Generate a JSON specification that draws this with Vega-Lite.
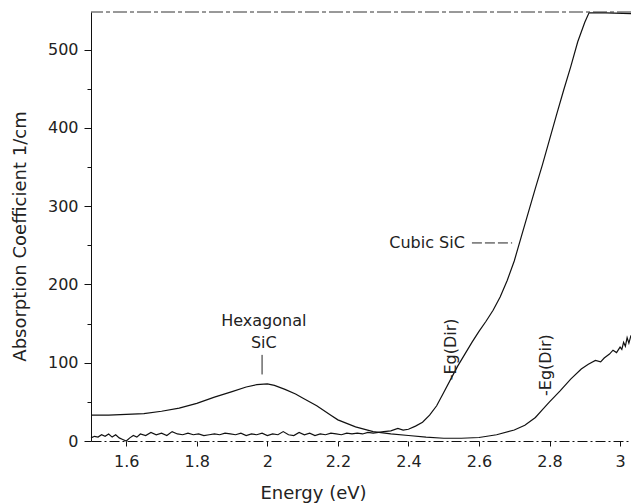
{
  "$schema": "https://vega.github.io/schema/vega-lite/v6.json",
  "width": 540,
  "height": 429,
  "autosize": "none",
  "padding": {"left": 91, "top": 12, "right": 0, "bottom": 62},
  "background": "white",
  "config": {
    "view": {"stroke": null},
    "font": "DejaVu Sans",
    "axis": {"grid": false, "domainColor": "#111", "tickColor": "#111", "labelColor": "#222", "titleColor": "#222", "labelFont": "DejaVu Sans", "titleFont": "DejaVu Sans", "labelFontWeight": "normal", "titleFontWeight": "normal"}
  },
  "datasets": {
    "cubic": [
      {"e": 1.5, "a": 4}, {"e": 1.51, "a": 6}, {"e": 1.52, "a": 5}, {"e": 1.53, "a": 8}, {"e": 1.54, "a": 6},
      {"e": 1.55, "a": 9}, {"e": 1.56, "a": 5}, {"e": 1.57, "a": 8}, {"e": 1.58, "a": 4}, {"e": 1.59, "a": 2},
      {"e": 1.6, "a": 0}, {"e": 1.61, "a": 4}, {"e": 1.62, "a": 7}, {"e": 1.63, "a": 5}, {"e": 1.64, "a": 9},
      {"e": 1.655, "a": 7}, {"e": 1.67, "a": 11}, {"e": 1.685, "a": 8}, {"e": 1.7, "a": 10}, {"e": 1.715, "a": 7},
      {"e": 1.73, "a": 12}, {"e": 1.745, "a": 9}, {"e": 1.76, "a": 8}, {"e": 1.775, "a": 10}, {"e": 1.79, "a": 8},
      {"e": 1.805, "a": 9}, {"e": 1.82, "a": 7}, {"e": 1.835, "a": 8}, {"e": 1.85, "a": 9}, {"e": 1.865, "a": 8},
      {"e": 1.88, "a": 10}, {"e": 1.895, "a": 9}, {"e": 1.91, "a": 8}, {"e": 1.925, "a": 10}, {"e": 1.94, "a": 7},
      {"e": 1.955, "a": 9}, {"e": 1.97, "a": 8}, {"e": 1.985, "a": 10}, {"e": 2.0, "a": 7}, {"e": 2.015, "a": 9},
      {"e": 2.03, "a": 8}, {"e": 2.045, "a": 12}, {"e": 2.06, "a": 8}, {"e": 2.075, "a": 7}, {"e": 2.09, "a": 11},
      {"e": 2.105, "a": 8}, {"e": 2.12, "a": 10}, {"e": 2.135, "a": 7}, {"e": 2.15, "a": 9}, {"e": 2.165, "a": 8},
      {"e": 2.18, "a": 10}, {"e": 2.195, "a": 9}, {"e": 2.21, "a": 8}, {"e": 2.225, "a": 10}, {"e": 2.24, "a": 9},
      {"e": 2.255, "a": 10}, {"e": 2.27, "a": 9}, {"e": 2.285, "a": 11}, {"e": 2.3, "a": 10}, {"e": 2.315, "a": 11},
      {"e": 2.33, "a": 12}, {"e": 2.35, "a": 13}, {"e": 2.37, "a": 16}, {"e": 2.385, "a": 14}, {"e": 2.4, "a": 15},
      {"e": 2.42, "a": 19}, {"e": 2.44, "a": 24}, {"e": 2.46, "a": 33}, {"e": 2.48, "a": 45}, {"e": 2.5, "a": 62},
      {"e": 2.52, "a": 79}, {"e": 2.54, "a": 96}, {"e": 2.56, "a": 111}, {"e": 2.58, "a": 126}, {"e": 2.6, "a": 140},
      {"e": 2.62, "a": 153}, {"e": 2.64, "a": 167}, {"e": 2.66, "a": 184}, {"e": 2.68, "a": 205}, {"e": 2.7, "a": 230},
      {"e": 2.72, "a": 261}, {"e": 2.74, "a": 292}, {"e": 2.76, "a": 323}, {"e": 2.78, "a": 353}, {"e": 2.8, "a": 385},
      {"e": 2.82, "a": 417}, {"e": 2.84, "a": 448}, {"e": 2.86, "a": 478}, {"e": 2.88, "a": 510}, {"e": 2.9, "a": 535},
      {"e": 2.912, "a": 547}, {"e": 2.96, "a": 547}, {"e": 3.031, "a": 546}
    ],
    "hex": [
      {"e": 1.5, "a": 33}, {"e": 1.55, "a": 33}, {"e": 1.6, "a": 34}, {"e": 1.65, "a": 35}, {"e": 1.7, "a": 38},
      {"e": 1.75, "a": 42}, {"e": 1.8, "a": 48}, {"e": 1.85, "a": 56}, {"e": 1.9, "a": 63}, {"e": 1.94, "a": 69},
      {"e": 1.97, "a": 72}, {"e": 2.0, "a": 73}, {"e": 2.02, "a": 71}, {"e": 2.05, "a": 66}, {"e": 2.08, "a": 60},
      {"e": 2.1, "a": 55}, {"e": 2.14, "a": 45}, {"e": 2.18, "a": 33}, {"e": 2.2, "a": 27}, {"e": 2.25, "a": 18},
      {"e": 2.3, "a": 12}, {"e": 2.35, "a": 9}, {"e": 2.4, "a": 7}, {"e": 2.45, "a": 5}, {"e": 2.5, "a": 3.5},
      {"e": 2.55, "a": 3.5}, {"e": 2.6, "a": 4.5}, {"e": 2.65, "a": 8}, {"e": 2.7, "a": 14}, {"e": 2.73, "a": 20},
      {"e": 2.76, "a": 30}, {"e": 2.78, "a": 40}, {"e": 2.8, "a": 50}, {"e": 2.83, "a": 64}, {"e": 2.86, "a": 79},
      {"e": 2.89, "a": 92}, {"e": 2.91, "a": 98}, {"e": 2.93, "a": 103}, {"e": 2.945, "a": 101}, {"e": 2.955, "a": 106},
      {"e": 2.97, "a": 111}, {"e": 2.98, "a": 116}, {"e": 2.99, "a": 113}, {"e": 3.0, "a": 120}, {"e": 3.005, "a": 117},
      {"e": 3.01, "a": 126}, {"e": 3.015, "a": 121}, {"e": 3.02, "a": 132}, {"e": 3.025, "a": 125}, {"e": 3.031, "a": 135}
    ],
    "labels": [
      {"e": 1.99, "a": 153, "t": "Hexagonal"},
      {"e": 1.99, "a": 125, "t": "SiC"},
      {"e": 2.56, "a": 253, "t": "Cubic SiC", "al": "right"}
    ],
    "vlabels": [
      {"e": 2.522, "a": 117, "t": "-Eg(Dir)"},
      {"e": 2.791, "a": 97, "t": "-Eg(Dir)"}
    ],
    "hexptr": [{"e": 1.985, "a": 110, "a2": 85}],
    "cubptr": [{"e": 2.58, "e2": 2.694, "a": 253}]
  },
  "layer": [
    {
      "data": {"name": "cubic"},
      "mark": {"type": "line", "color": "#111", "strokeWidth": 1.2},
      "encoding": {
        "x": {"field": "e", "type": "quantitative", "scale": {"domain": [1.5, 3.031], "nice": false, "zero": false},
          "axis": {"title": "Energy (eV)", "values": [1.6, 1.7, 1.8, 1.9, 2.0, 2.1, 2.2, 2.3, 2.4, 2.5, 2.6, 2.7, 2.8, 2.9, 3.0],
            "labelExpr": "round(datum.value*10) % 2 == 0 ? format(datum.value, '~g') : ''",
            "domainDash": [10, 3, 2, 3], "tickSize": 5, "labelPadding": 7, "labelFontSize": 16, "labelFlush": false,
            "titleFontSize": 18, "titleX": 222, "titleY": 52, "titleBaseline": "middle", "titleAlign": "center"}},
        "y": {"field": "a", "type": "quantitative", "scale": {"domain": [0, 548], "nice": false},
          "axis": {"title": "Absorption Coefficient 1/cm", "values": [0, 50, 100, 150, 200, 250, 300, 350, 400, 450, 500],
            "labelExpr": "datum.value % 100 == 0 ? datum.label : ''",
            "tickSize": {"condition": {"test": "datum.value % 100 != 0", "value": 4}, "value": 7},
            "labelPadding": 6, "labelFontSize": 16, "labelFlush": false,
            "titleFontSize": 18, "titleX": -71, "titleY": 224, "titleBaseline": "middle", "titleAlign": "center", "titleAngle": 270}}
      }
    },
    {
      "data": {"name": "hex"},
      "mark": {"type": "line", "color": "#111", "strokeWidth": 1.2},
      "encoding": {
        "x": {"field": "e", "type": "quantitative"},
        "y": {"field": "a", "type": "quantitative"}
      }
    },
    {
      "data": {"values": [{}]},
      "mark": {"type": "rule", "color": "#333", "strokeWidth": 1, "strokeDash": [14, 3, 4, 3]},
      "encoding": {"y": {"datum": 548, "type": "quantitative"}}
    },
    {
      "data": {"name": "hexptr"},
      "mark": {"type": "rule", "color": "#222", "strokeWidth": 1},
      "encoding": {
        "x": {"field": "e", "type": "quantitative"},
        "y": {"field": "a", "type": "quantitative"},
        "y2": {"field": "a2"}
      }
    },
    {
      "data": {"name": "cubptr"},
      "mark": {"type": "rule", "color": "#222", "strokeWidth": 1, "strokeDash": [10, 3]},
      "encoding": {
        "x": {"field": "e", "type": "quantitative"},
        "x2": {"field": "e2"},
        "y": {"field": "a", "type": "quantitative"}
      }
    },
    {
      "data": {"name": "labels"},
      "transform": [{"filter": "datum.al != 'right'"}],
      "mark": {"type": "text", "fontSize": 16, "color": "#222", "align": "center", "baseline": "middle"},
      "encoding": {
        "x": {"field": "e", "type": "quantitative"},
        "y": {"field": "a", "type": "quantitative"},
        "text": {"field": "t"}
      }
    },
    {
      "data": {"name": "labels"},
      "transform": [{"filter": "datum.al == 'right'"}],
      "mark": {"type": "text", "fontSize": 16, "color": "#222", "align": "right", "baseline": "middle"},
      "encoding": {
        "x": {"field": "e", "type": "quantitative"},
        "y": {"field": "a", "type": "quantitative"},
        "text": {"field": "t"}
      }
    },
    {
      "data": {"name": "vlabels"},
      "mark": {"type": "text", "fontSize": 16, "color": "#222", "align": "center", "baseline": "middle", "angle": 270},
      "encoding": {
        "x": {"field": "e", "type": "quantitative"},
        "y": {"field": "a", "type": "quantitative"},
        "text": {"field": "t"}
      }
    }
  ]
}
